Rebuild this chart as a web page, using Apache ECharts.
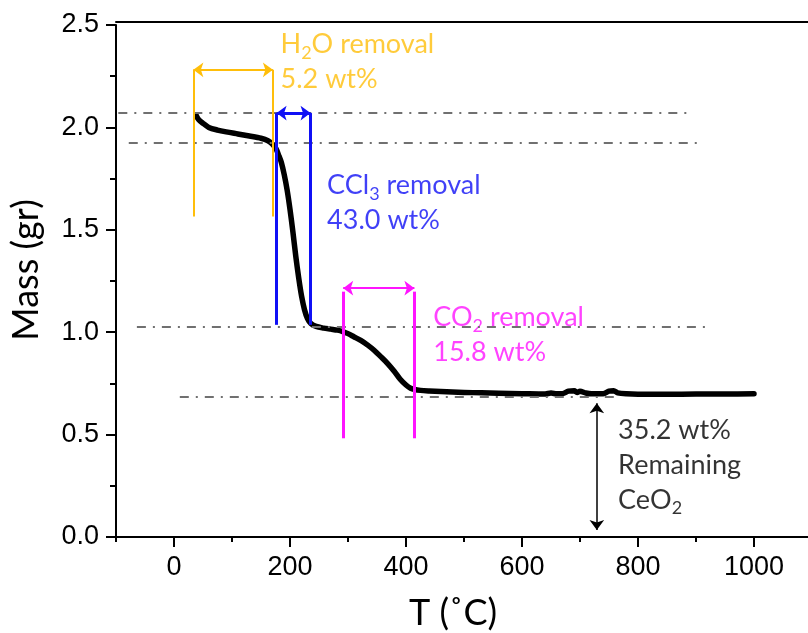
<!DOCTYPE html>
<html>
<head>
<meta charset="utf-8">
<script src="https://cdn.jsdelivr.net/npm/echarts@6/dist/echarts.min.js"></script>
<style>html,body{margin:0;padding:0;background:#fff}#c{width:808px;height:633px}</style>
</head>
<body>
<div id="c"></div>
<script>
// ---- data ----
const temps = [38, 42, 50, 60, 75, 90, 110, 130, 150, 162, 170, 176, 181, 185, 190, 195, 200, 205, 210, 215, 220, 225, 230, 236, 245, 258, 270, 282, 292, 300, 310, 322, 334, 345, 356, 368, 380, 390, 400, 408, 415, 425, 440, 460, 480, 500, 530, 560, 600, 640, 650, 660, 670, 680, 690, 695, 700, 710, 720, 740, 750, 758, 765, 780, 800, 850, 900, 950, 1000];
const mass  = [2.06, 2.04, 2.02, 2.00, 1.987, 1.978, 1.968, 1.958, 1.947, 1.935, 1.918, 1.895, 1.86, 1.83, 1.77, 1.695, 1.60, 1.49, 1.37, 1.265, 1.175, 1.11, 1.068, 1.042, 1.028, 1.02, 1.015, 1.01, 1.002, 0.993, 0.978, 0.96, 0.937, 0.912, 0.882, 0.848, 0.808, 0.77, 0.742, 0.726, 0.72, 0.716, 0.713, 0.71, 0.708, 0.706, 0.704, 0.702, 0.700, 0.698, 0.703, 0.699, 0.700, 0.712, 0.714, 0.706, 0.712, 0.703, 0.699, 0.700, 0.712, 0.714, 0.704, 0.699, 0.697, 0.697, 0.698, 0.698, 0.699];

// reference (dash-dot) levels
const refLevel = [2.07, 1.923, 1.029, 0.683];
const refStart = [-96, -78, -64, 10];
const refEnd   = [890, 912, 918, 760];

// step brackets: [x1, x2], vertical span [yLow, yHigh], arrow level
const h2oX = [33.4, 170.5];   const h2oY = [1.565, 2.281];  const h2oArrow = 2.281;
const cclX = [176.9, 235.4];  const cclY = [1.036, 2.07];   const cclArrow = 2.07;
const co2X = [291.7, 414.5];  const co2Y = [0.482, 1.198];  const co2Arrow = 1.215;
const ceoX = 729;             const ceoY = [0.034, 0.653];

// annotation texts (left edge x, vertical middle y)
const txtH2O = [183.7, 2.319];
const txtCCl = [264, 1.631];
const txtCO2 = [447, 0.986];
const txtCeO = [765.7, 0.352];

const xTicks = [0, 200, 400, 600, 800, 1000];
const xMinorTicks = [-100, 100, 300, 500, 700, 900, 1100];
const yTicks = [0.0, 0.5, 1.0, 1.5, 2.0, 2.5];

// ---- chart ----
const ORANGE = '#FFBE0A', BLUE = '#1010F5', MAGENTA = '#FF14FF', GRAY = '#707070';
const chart = echarts.init(document.getElementById('c'), null, {renderer: 'canvas'});
const curve = temps.map((t, i) => [t, mass[i]]);

function vline(x, y, color, w) {
  return [{coord: [x, y[0]], lineStyle: {color: color, width: w, type: 'solid'}}, {coord: [x, y[1]]}];
}
function harrow(x, y, color, w) {
  return [{coord: [x[0], y], symbol: 'arrow', lineStyle: {color: color, width: w, type: 'solid'}}, {coord: [x[1], y], symbol: 'arrow'}];
}

const annLines = [
  vline(h2oX[0], h2oY, ORANGE, 2), vline(h2oX[1], h2oY, ORANGE, 2), harrow(h2oX, h2oArrow, ORANGE, 2),
  vline(cclX[0], cclY, BLUE, 3), vline(cclX[1], cclY, BLUE, 3), harrow(cclX, cclArrow, BLUE, 3),
  vline(co2X[0], co2Y, MAGENTA, 3), vline(co2X[1], co2Y, MAGENTA, 3), harrow(co2X, co2Arrow, MAGENTA, 2),
  [{coord: [ceoX, ceoY[0]], symbol: 'arrow', lineStyle: {color: '#000', width: 1.5, type: 'solid'}}, {coord: [ceoX, ceoY[1]], symbol: 'arrow'}]
];

const refLines = refLevel.map((y, i) => [{coord: [refStart[i], y]}, {coord: [refEnd[i], y]}]);

const FONT = 'Lato';
const rich = (color) => ({
  a: {fontFamily: FONT, fontSize: 27, color: color, lineHeight: 35},
  s: {fontFamily: FONT, fontSize: 18, color: color, lineHeight: 22, verticalAlign: 'bottom'}
});
function textPoint(pos, str, color) {
  return {value: pos, label: {show: true, position: 'right', distance: 0, formatter: str, rich: rich(color), align: 'left'}};
}

const axisBase = {
  type: 'value', min: -100, max: 1100,
  splitLine: {show: false}
};

const option = {
  animation: false,
  backgroundColor: '#fff',
  grid: {left: 116, right: -4, top: 25, bottom: 96, containLabel: false, outerBoundsMode: 'none'},
  xAxis: [Object.assign({}, axisBase, {
    position: 'bottom',
    name: 'T (˚C)', nameLocation: 'middle', nameGap: 58,
    nameTextStyle: {fontFamily: FONT, fontSize: 36, color: '#000', padding: [0, 22, 0, 0]},
    axisLine: {show: true, onZero: false, lineStyle: {color: '#000', width: 2}},
    axisTick: {show: true, inside: false, length: 10, customValues: xTicks, lineStyle: {color: '#000', width: 2}},
    axisLabel: {
      fontFamily: 'Liberation Sans', fontSize: 27, color: '#000', margin: 17,
      customValues: xTicks, formatter: v => String(v)
    }
  }), Object.assign({}, axisBase, {
    position: 'bottom', offset: 0,
    axisLine: {show: false},
    axisTick: {show: true, inside: false, length: 5, customValues: xMinorTicks, lineStyle: {color: '#000', width: 2}},
    axisLabel: {show: false}
  }), Object.assign({}, axisBase, {
    position: 'top', offset: 3,
    axisLine: {show: true, onZero: false, lineStyle: {color: '#000', width: 2}},
    axisTick: {show: false}, axisLabel: {show: false}
  })],
  yAxis: {
    type: 'value', min: 0, max: 2.5, interval: 0.5,
    name: 'Mass (gr)', nameLocation: 'middle', nameGap: 72,
    nameTextStyle: {fontFamily: FONT, fontSize: 36, color: '#000', padding: [0, 0, 0, 22]},
    axisLine: {show: true, onZero: false, lineStyle: {color: '#000', width: 2}},
    axisTick: {show: true, inside: false, length: 10, lineStyle: {color: '#000', width: 2}},
    minorTick: {show: true, splitNumber: 2, length: 6, lineStyle: {color: '#000', width: 2}},
    splitLine: {show: false},
    axisLabel: {
      fontFamily: 'Liberation Sans', fontSize: 27, color: '#000', margin: 17,
      formatter: v => v.toFixed(1)
    }
  },
  series: [{
    type: 'line', name: 'refs', data: [], z: 1, silent: true,
    markLine: {
      silent: true, symbol: 'none', label: {show: false}, animation: false,
      lineStyle: {color: GRAY, width: 2, type: [9, 7, 2, 7]},
      data: refLines
    }
  }, {
    type: 'line', name: 'mass', data: curve, z: 2, showSymbol: false, symbol: 'none',
    smooth: 0.3, lineStyle: {color: '#000', width: 5.5, cap: 'round', join: 'round'}
  }, {
    type: 'line', name: 'annotations', data: [], z: 3, silent: true,
    markLine: {
      silent: true, symbol: 'none', symbolSize: [11, 10], label: {show: false}, animation: false,
      emphasis: {disabled: true},
      data: annLines
    }
  }, {
    type: 'scatter', name: 'texts', z: 4, symbolSize: 0, silent: true,
    data: [
      textPoint(txtH2O, '{a|H}{s|2}{a|O removal}\n{a|5.2 wt%}', ORANGE),
      textPoint(txtCCl, '{a|CCl}{s|3}{a| removal}\n{a|43.0 wt%}', BLUE),
      textPoint(txtCO2, '{a|CO}{s|2}{a| removal}\n{a|15.8 wt%}', MAGENTA),
      textPoint(txtCeO, '{a|35.2 wt%}\n{a|Remaining}\n{a|CeO}{s|2}', '#000')
    ]
  }]
};
chart.setOption(option);
</script>
</body>
</html>
